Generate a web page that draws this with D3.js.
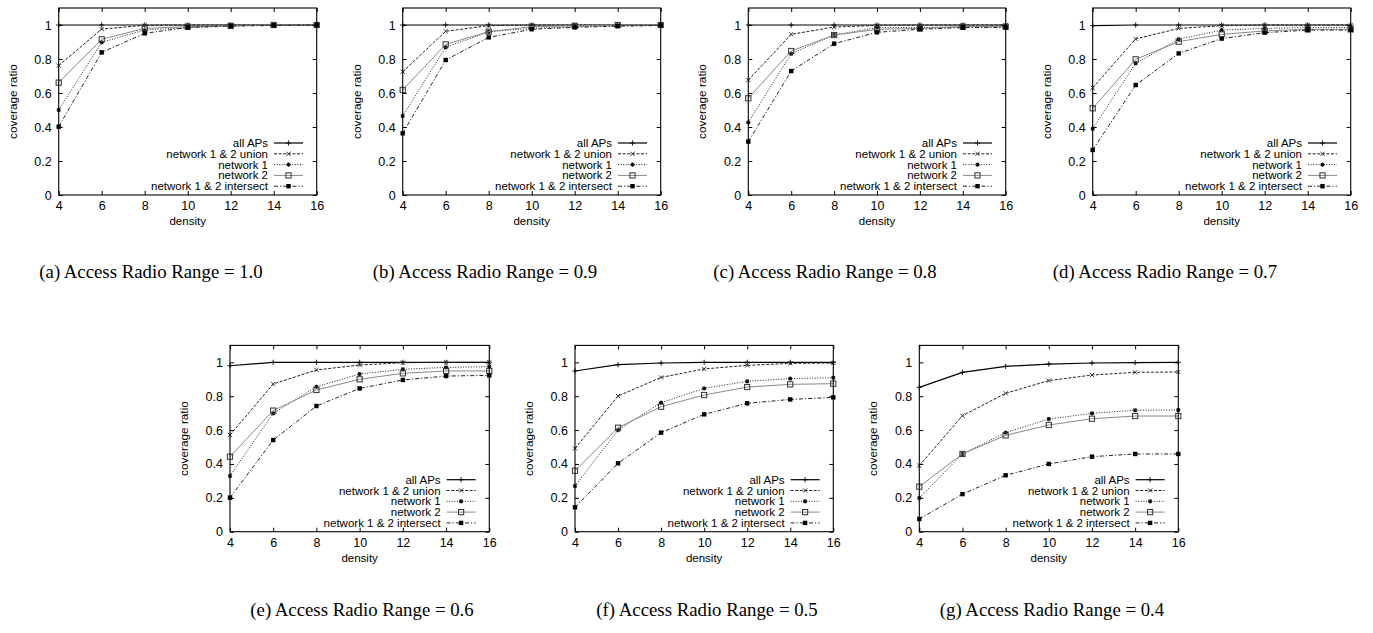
<!DOCTYPE html>
<html><head><meta charset="utf-8">
<script src="https://cdn.jsdelivr.net/npm/d3@7"></script>
<style>html,body{margin:0;padding:0;background:#fff;}svg{display:block;}</style>
</head><body>
<script>
// ---- data ----
const density = [4, 6, 8, 10, 12, 14, 16];
const yTickValues = [0, 0.2, 0.4, 0.6, 0.8, 1];
const panelLetters = ["a", "b", "c", "d", "e", "f", "g"];
const radioRanges = ["1.0", "0.9", "0.8", "0.7", "0.6", "0.5", "0.4"];
const seriesNames = ["all APs", "network 1 & 2 union", "network 1", "network 2", "network 1 & 2 intersect"];

const allAPs = [
  [1, 1, 1, 1, 1, 1, 1],
  [1, 1, 1, 1, 1, 1, 1],
  [1, 1, 1, 1, 1, 1, 1],
  [0.996, 1, 1, 1, 1, 1, 1],
  [0.98, 1, 1, 1, 1, 1, 1],
  [0.949, 0.986, 0.996, 1, 1, 1, 1],
  [0.852, 0.941, 0.976, 0.99, 0.996, 0.998, 1]
];
const union12 = [
  [0.761, 0.976, 0.998, 1, 1, 1, 1],
  [0.725, 0.963, 0.996, 1, 1, 1, 1],
  [0.676, 0.945, 0.988, 0.998, 1, 1, 1],
  [0.631, 0.918, 0.98, 0.996, 1, 1, 1],
  [0.571, 0.872, 0.955, 0.984, 0.998, 1, 1],
  [0.492, 0.801, 0.911, 0.961, 0.982, 0.994, 0.996],
  [0.39, 0.685, 0.817, 0.892, 0.925, 0.941, 0.943]
];
const network1 = [
  [0.5, 0.898, 0.971, 0.984, 0.994, 1, 1],
  [0.465, 0.869, 0.96, 0.98, 0.99, 0.995, 1],
  [0.427, 0.831, 0.941, 0.985, 0.985, 0.99, 0.99],
  [0.39, 0.775, 0.916, 0.97, 0.98, 0.985, 0.985],
  [0.329, 0.699, 0.856, 0.931, 0.959, 0.97, 0.974],
  [0.27, 0.6, 0.762, 0.846, 0.888, 0.904, 0.909],
  [0.199, 0.459, 0.585, 0.665, 0.699, 0.717, 0.719]
];
const network2 = [
  [0.661, 0.916, 0.98, 0.99, 0.995, 1, 1],
  [0.618, 0.886, 0.961, 0.99, 0.995, 1, 1],
  [0.569, 0.847, 0.941, 0.974, 0.98, 0.99, 0.99],
  [0.51, 0.798, 0.902, 0.945, 0.965, 0.975, 0.975],
  [0.443, 0.715, 0.837, 0.9, 0.935, 0.949, 0.949],
  [0.36, 0.614, 0.738, 0.807, 0.854, 0.87, 0.874],
  [0.266, 0.459, 0.569, 0.63, 0.667, 0.683, 0.683]
];
const intersect12 = [
  [0.402, 0.839, 0.951, 0.986, 0.994, 0.997, 1],
  [0.363, 0.794, 0.927, 0.975, 0.986, 0.993, 0.997],
  [0.314, 0.729, 0.89, 0.957, 0.975, 0.985, 0.985],
  [0.265, 0.647, 0.833, 0.92, 0.955, 0.97, 0.97],
  [0.201, 0.541, 0.742, 0.846, 0.896, 0.919, 0.923],
  [0.144, 0.404, 0.585, 0.693, 0.758, 0.781, 0.793],
  [0.075, 0.222, 0.333, 0.4, 0.443, 0.459, 0.459]
];
const seriesData = [allAPs, union12, network1, network2, intersect12];

// ---- layout ----
const W = 1373, H = 633;
const panels = [
  {x0: 58.7, x1: 316.7, y0: 195, y1: 8, cx: 151, cy: 278},
  {x0: 402.7, x1: 660.7, y0: 195, y1: 8, cx: 485, cy: 278},
  {x0: 748.3, x1: 1005.7, y0: 195, y1: 8, cx: 825, cy: 278},
  {x0: 1092.7, x1: 1350.7, y0: 195, y1: 8, cx: 1165, cy: 278},
  {x0: 230, x1: 489.3, y0: 531.7, y1: 345.4, cx: 362, cy: 616},
  {x0: 575, x1: 833.3, y0: 531.7, y1: 345.4, cx: 707, cy: 616},
  {x0: 919.3, x1: 1178.3, y0: 531.7, y1: 345.4, cx: 1052, cy: 616}
];
const styles = [
  {stroke: "#000", width: 1.2, dash: null, marker: "plus"},
  {stroke: "#222", width: 1, dash: "3,1.6", marker: "cross"},
  {stroke: "#222", width: 1, dash: "1,1.6", marker: "star"},
  {stroke: "#8a8a8a", width: 1, dash: null, marker: "osquare"},
  {stroke: "#222", width: 1, dash: "4,2,1.2,2", marker: "fsquare"}
];
const sans = "'Liberation Sans', Arial, Helvetica, sans-serif";
const serif = "'Liberation Serif', 'Times New Roman', serif";

const svg = d3.select("body").append("svg").attr("width", W).attr("height", H);

function drawMarker(g, type, x, y) {
  const s = 2.6;
  if (type === "plus") {
    g.append("path").attr("d", `M${x-s},${y}H${x+s}M${x},${y-s}V${y+s}`).attr("stroke", "#000").attr("stroke-width", 0.9).attr("fill", "none");
  } else if (type === "cross") {
    const t = 2.1;
    g.append("path").attr("d", `M${x-t},${y-t}L${x+t},${y+t}M${x-t},${y+t}L${x+t},${y-t}`).attr("stroke", "#222").attr("stroke-width", 0.9).attr("fill", "none");
  } else if (type === "star") {
    const t = 2.1;
    g.append("path").attr("d", `M${x-t},${y}H${x+t}M${x},${y-t}V${y+t}M${x-t*0.75},${y-t*0.75}L${x+t*0.75},${y+t*0.75}M${x-t*0.75},${y+t*0.75}L${x+t*0.75},${y-t*0.75}`).attr("stroke", "#111").attr("stroke-width", 1.1).attr("fill", "none");
  } else if (type === "osquare") {
    g.append("rect").attr("x", x-2.6).attr("y", y-2.6).attr("width", 5.2).attr("height", 5.2).attr("fill", "none").attr("stroke", "#333").attr("stroke-width", 1);
  } else if (type === "fsquare") {
    g.append("rect").attr("x", x-2.2).attr("y", y-2.2).attr("width", 4.4).attr("height", 4.4).attr("fill", "#000");
  }
}

panels.forEach((p, pi) => {
  const g = svg.append("g");
  const x = d3.scaleLinear().domain([4, 16]).range([p.x0, p.x1]);
  const y = d3.scaleLinear().domain([0, 1.1]).range([p.y0, p.y1]);

  // series
  seriesData.forEach((sd, si) => {
    const st = styles[si];
    const vals = sd[pi];
    const pts = density.map((d, i) => [x(d), y(vals[i])]);
    g.append("path").attr("d", d3.line()(pts)).attr("fill", "none")
      .attr("stroke", st.stroke).attr("stroke-width", st.width)
      .attr("stroke-dasharray", st.dash);
    pts.forEach(pt => drawMarker(g, st.marker, pt[0], pt[1]));
  });

  // frame
  g.append("rect").attr("x", p.x0).attr("y", p.y1).attr("width", p.x1 - p.x0).attr("height", p.y0 - p.y1)
    .attr("fill", "none").attr("stroke", "#000").attr("stroke-width", 1.1);

  // axes with inward ticks
  const axB = d3.axisBottom(x).tickValues(density).tickSize(-4).tickPadding(6).tickFormat(d3.format("d"));
  const axT = d3.axisTop(x).tickValues(density).tickSize(-4).tickFormat("");
  const axL = d3.axisLeft(y).tickValues(yTickValues).tickSize(-4).tickPadding(7).tickFormat(d => d === 0 || d === 1 ? String(d) : d3.format(".1f")(d));
  const axR = d3.axisRight(y).tickValues(yTickValues).tickSize(-4).tickFormat("");
  [[axB, `translate(0,${p.y0})`], [axT, `translate(0,${p.y1})`], [axL, `translate(${p.x0},0)`], [axR, `translate(${p.x1},0)`]].forEach(([ax, tr]) => {
    const a = g.append("g").attr("transform", tr).call(ax);
    a.select(".domain").remove();
    a.selectAll("line").attr("stroke", "#000").attr("stroke-width", 1);
    a.selectAll("text").attr("font-family", sans).attr("font-size", 12.5).attr("fill", "#000");
  });

  // axis labels
  g.append("text").attr("x", (p.x0 + p.x1) / 2).attr("y", p.y0 + 30).attr("text-anchor", "middle")
    .attr("font-family", sans).attr("font-size", 11.5).text("density");
  g.append("text").attr("transform", `translate(${p.x0 - 42},${(p.y0 + p.y1) / 2}) rotate(-90)`)
    .attr("text-anchor", "middle").attr("font-family", sans).attr("font-size", 11.8).text("coverage ratio");

  // legend
  const rowOff = [52, 41.2, 30.4, 19.6, 8.8];
  seriesNames.forEach((name, si) => {
    const ly = p.y0 - rowOff[si];
    g.append("text").attr("x", p.x1 - 48.7).attr("y", ly + 4).attr("text-anchor", "end")
      .attr("font-family", sans).attr("font-size", 11.5).text(name);
    const st = styles[si];
    g.append("line").attr("x1", p.x1 - 42.7).attr("x2", p.x1 - 13.7).attr("y1", ly).attr("y2", ly)
      .attr("stroke", st.stroke).attr("stroke-width", st.width).attr("stroke-dasharray", st.dash);
    drawMarker(g, st.marker, p.x1 - 28.2, ly);
  });

  // caption
  svg.append("text").attr("x", p.cx).attr("y", p.cy).attr("text-anchor", "middle")
    .attr("font-family", serif).attr("font-size", 18.8).attr("fill", "#000")
    .text(`(${panelLetters[pi]}) Access Radio Range = ${radioRanges[pi]}`);
});
</script>
</body></html>
